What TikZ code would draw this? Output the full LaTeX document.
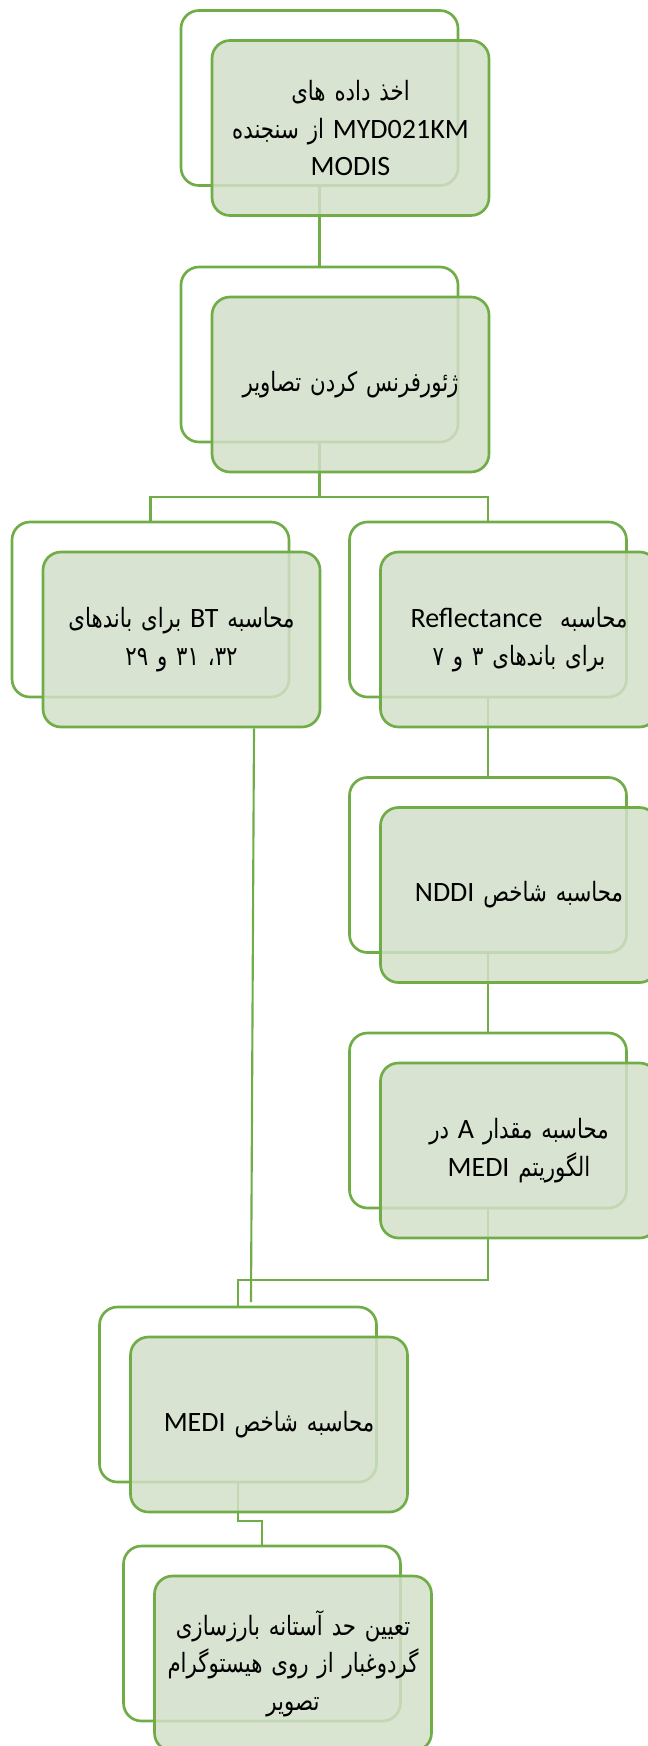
\documentclass[tikz,border=0pt]{standalone}
\usepackage{fontspec}
\setmainfont{Carlito}
\newfontfamily\fa[Script=Arabic,Scale=0.95,FakeStretch=0.8]{DejaVu Sans}
\TeXXeTstate=1
\usetikzlibrary{calc}
\definecolor{grn}{RGB}{112,173,71}
\definecolor{ffill}{RGB}{210,223,201}
\newcommand\pline[1]{\beginR#1\endR}
\newcommand\lat[1]{\beginL{\rmfamily #1}\endL}
\tikzset{
  backbox/.style={draw=grn, line width=2pt, fill=white, rounded corners=13.5pt,
    minimum width=207.75pt, minimum height=131.25pt, inner sep=0pt},
  frontbox/.style={backbox, fill=ffill, fill opacity=0.85, text opacity=1,
    align=center, text width=200pt, font=\fa\fontsize{21}{28}\selectfont},
  conn/.style={draw=grn, line width=1.6pt}
}
\begin{document}
\begin{tikzpicture}[x=0.75pt,y=-0.75pt]
\useasboundingbox (0,0) rectangle (648,1746);
\clip (0,0) rectangle (648,1746);
% back boxes
\node[backbox] (B1) at (319.5,98) {};
\node[backbox] (B2) at (319.5,354.5) {};
\node[backbox] (B3L) at (150.5,609.5) {};
\node[backbox] (B3R) at (488,609.5) {};
\node[backbox] (B4) at (488,865) {};
\node[backbox] (B5) at (488,1120.5) {};
\node[backbox] (B6) at (238,1394.5) {};
\node[backbox] (B7) at (262,1633.5) {};
% connectors
\coordinate (j1) at (319.5,497);
\coordinate (j2) at (488,1280);
\coordinate (j3) at (238,1521);
\coordinate (lbot) at (251,1302);
\draw[conn] (B1.south) -- (B2.north);
\draw[conn] (B2.south) -- (j1) -| (B3L.north);
\draw[conn] (j1) -| (B3R.north);
\draw[conn] (B3R.south) -- (B4.north);
\draw[conn] (B4.south) -- (B5.north);
\draw[conn] (B5.south) -- (j2) -| (B6.north);
\draw[conn] (B6.south) -- (j3) -| (B7.north);
% front boxes
\node[frontbox] (F1) at (350.5,128) {\pline{اخذ داده های}\\ \pline{\lat{MYD021KM} از سنجنده}\\ {\rmfamily MODIS}};
\node[frontbox] (F2) at (350.5,384.5) {\pline{ژئورفرنس کردن تصاویر}};
\node[frontbox] (F3L) at (181.5,639.5) {\pline{محاسبه \lat{BT} برای باندهای}\\ \pline{۳۲، ۳۱ و ۲۹}};
\node[frontbox] (F3R) at (519,639.5) {\pline{محاسبه \ \lat{Reflectance}}\\ \pline{برای باندهای ۳ و ۷}};
\node[frontbox] (F4) at (519,895) {\pline{محاسبه شاخص \lat{NDDI}}};
\node[frontbox] (F5) at (519,1150.5) {\pline{محاسبه مقدار \lat{A} در}\\ \pline{الگوریتم \lat{MEDI}}};
\node[frontbox] (F6) at (269,1424.5) {\pline{محاسبه شاخص \lat{MEDI}}};
\node[frontbox] (F7) at (293,1663.5) {\pline{تعیین حد آستانه بارزسازی}\\ \pline{گردوغبار از روی هیستوگرام}\\ \pline{تصویر}};
\draw[conn] ($(F3L.south)+(72.5,0)$) -- (lbot);
\end{tikzpicture}
\end{document}
